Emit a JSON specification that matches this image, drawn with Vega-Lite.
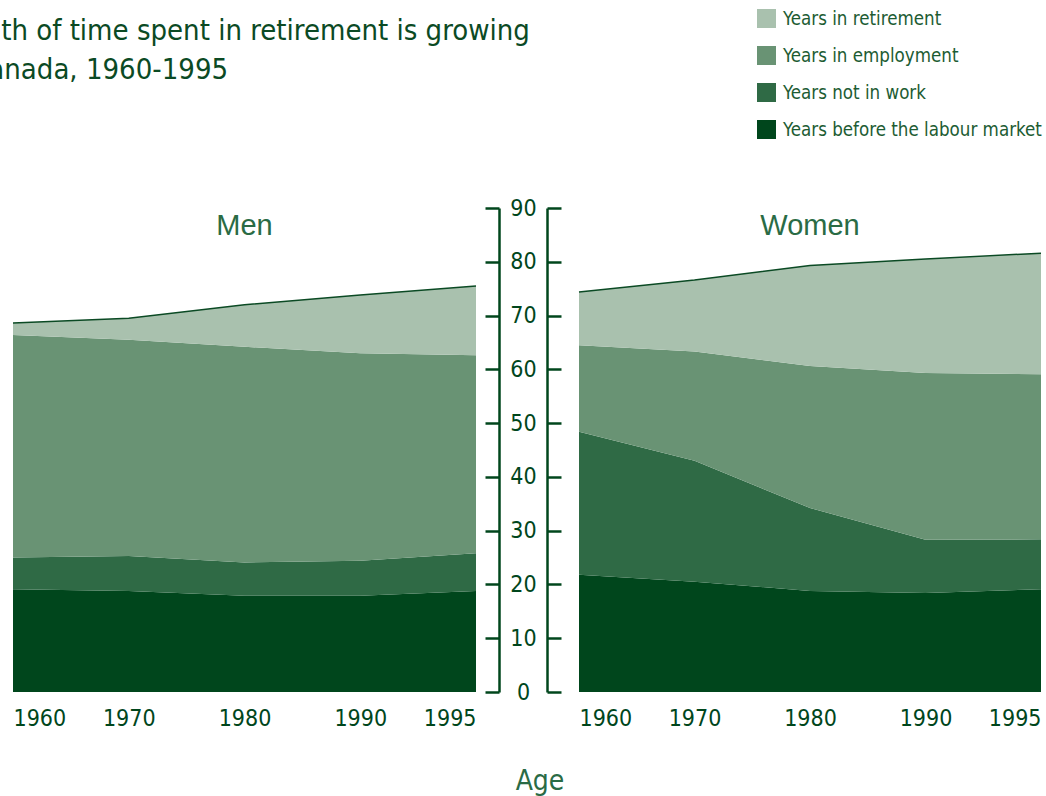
{
  "$schema": "https://vega.github.io/schema/vega-lite/v6.json",
  "padding": {"left": -62, "top": 9, "right": 0, "bottom": 0},
  "background": "white",
  "title": {
    "text": ["Length of time spent in retirement is growing", "in Canada, 1960-1995"],
    "anchor": "start",
    "dx": -72,
    "offset": -76,
    "font": "DejaVu Sans Condensed, Liberation Sans, sans-serif",
    "fontSize": 29,
    "fontWeight": "normal",
    "lineHeight": 39,
    "color": "#0b4a24"
  },
  "data": {
    "values": [
      {"sex": "Men", "year": 1960, "category": "Years before the labour market", "years": 19.1},
      {"sex": "Men", "year": 1970, "category": "Years before the labour market", "years": 18.8},
      {"sex": "Men", "year": 1980, "category": "Years before the labour market", "years": 17.9},
      {"sex": "Men", "year": 1990, "category": "Years before the labour market", "years": 17.9},
      {"sex": "Men", "year": 1995, "category": "Years before the labour market", "years": 18.8},
      {"sex": "Men", "year": 1960, "category": "Years not in work", "years": 5.9},
      {"sex": "Men", "year": 1970, "category": "Years not in work", "years": 6.5},
      {"sex": "Men", "year": 1980, "category": "Years not in work", "years": 6.2},
      {"sex": "Men", "year": 1990, "category": "Years not in work", "years": 6.5},
      {"sex": "Men", "year": 1995, "category": "Years not in work", "years": 7.0},
      {"sex": "Men", "year": 1960, "category": "Years in employment", "years": 41.4},
      {"sex": "Men", "year": 1970, "category": "Years in employment", "years": 40.2},
      {"sex": "Men", "year": 1980, "category": "Years in employment", "years": 40.1},
      {"sex": "Men", "year": 1990, "category": "Years in employment", "years": 38.6},
      {"sex": "Men", "year": 1995, "category": "Years in employment", "years": 36.8},
      {"sex": "Men", "year": 1960, "category": "Years in retirement", "years": 2.2},
      {"sex": "Men", "year": 1970, "category": "Years in retirement", "years": 4.0},
      {"sex": "Men", "year": 1980, "category": "Years in retirement", "years": 7.8},
      {"sex": "Men", "year": 1990, "category": "Years in retirement", "years": 10.8},
      {"sex": "Men", "year": 1995, "category": "Years in retirement", "years": 12.9},
      {"sex": "Women", "year": 1960, "category": "Years before the labour market", "years": 21.8},
      {"sex": "Women", "year": 1970, "category": "Years before the labour market", "years": 20.5},
      {"sex": "Women", "year": 1980, "category": "Years before the labour market", "years": 18.8},
      {"sex": "Women", "year": 1990, "category": "Years before the labour market", "years": 18.4},
      {"sex": "Women", "year": 1995, "category": "Years before the labour market", "years": 19.1},
      {"sex": "Women", "year": 1960, "category": "Years not in work", "years": 26.6},
      {"sex": "Women", "year": 1970, "category": "Years not in work", "years": 22.5},
      {"sex": "Women", "year": 1980, "category": "Years not in work", "years": 15.4},
      {"sex": "Women", "year": 1990, "category": "Years not in work", "years": 9.9},
      {"sex": "Women", "year": 1995, "category": "Years not in work", "years": 9.3},
      {"sex": "Women", "year": 1960, "category": "Years in employment", "years": 16.1},
      {"sex": "Women", "year": 1970, "category": "Years in employment", "years": 20.3},
      {"sex": "Women", "year": 1980, "category": "Years in employment", "years": 26.4},
      {"sex": "Women", "year": 1990, "category": "Years in employment", "years": 31.0},
      {"sex": "Women", "year": 1995, "category": "Years in employment", "years": 30.7},
      {"sex": "Women", "year": 1960, "category": "Years in retirement", "years": 9.9},
      {"sex": "Women", "year": 1970, "category": "Years in retirement", "years": 13.3},
      {"sex": "Women", "year": 1980, "category": "Years in retirement", "years": 18.7},
      {"sex": "Women", "year": 1990, "category": "Years in retirement", "years": 21.2},
      {"sex": "Women", "year": 1995, "category": "Years in retirement", "years": 22.5}
    ]
  },
  "vconcat": [
    {
      "title": {
        "text": "Age",
        "orient": "bottom",
        "anchor": "middle",
        "offset": 38,
        "dx": 13,
        "font": "DejaVu Sans Condensed, Liberation Sans, sans-serif",
        "fontSize": 28,
        "fontWeight": "normal",
        "color": "#2a6b45"
      },
      "spacing": 8,
      "hconcat": [
        {
          "width": 463,
          "height": 484,
          "title": {"text": "Men", "anchor": "middle", "offset": -44, "font": "Liberation Sans", "fontSize": 29, "fontWeight": "normal", "color": "#2a6b45"},
          "transform": [{"filter": "datum.sex === 'Men'"}],
          "encoding": {
            "x": {
              "field": "year", "type": "ordinal",
              "scale": {"type": "point", "padding": 0},
              "axis": {"labelAngle": 0, "labelFlush": true, "ticks": false, "domain": false, "labelPadding": 15, "labelFont": "DejaVu Sans Condensed, Liberation Sans, sans-serif", "labelFontSize": 23, "labelColor": "#00461c", "title": null, "grid": false}
            }
          },
          "layer": [
            {
              "transform": [{"calculate": "indexof(['Years before the labour market','Years not in work','Years in employment','Years in retirement'], datum.category)", "as": "stack_order"}],
              "mark": {"type": "area", "interpolate": "linear"},
              "encoding": {
                "y": {
                  "field": "years", "type": "quantitative", "stack": "zero",
                  "scale": {"domain": [0, 90], "nice": false},
                  "axis": {"orient": "right", "offset": 23, "values": [0, 10, 20, 30, 40, 50, 60, 70, 80, 90], "tickSize": -14, "tickWidth": 2.5, "domainWidth": 2.5, "tickColor": "#00461c", "domainColor": "#00461c", "labelAlign": "center", "labelBaseline": "middle", "labelPadding": 38, "labelFont": "DejaVu Sans Condensed, Liberation Sans, sans-serif", "labelFontSize": 23, "labelColor": "#00461c", "labelFlush": false, "labelOverlap": false, "title": null, "grid": false}
                },
                "color": {
                  "field": "category", "type": "nominal",
                  "scale": {
                    "domain": ["Years in retirement", "Years in employment", "Years not in work", "Years before the labour market"],
                    "range": ["#a9c1ae", "#699374", "#2f6a45", "#00461c"]
                  },
                  "legend": {"orient": "none", "legendX": 744, "legendY": -199, "title": null, "symbolType": "square", "symbolSize": 361, "symbolStrokeWidth": 0, "symbolOpacity": 1, "labelFont": "DejaVu Sans Condensed, Liberation Sans, sans-serif", "labelFontSize": 18.6, "labelLimit": 400, "labelColor": "#1d5c33", "rowPadding": 17, "labelOffset": 7, "padding": 0}
                },
                "order": {"field": "stack_order", "type": "quantitative"}
              }
            },
            {
              "transform": [{"aggregate": [{"op": "sum", "field": "years", "as": "total"}], "groupby": ["year"]}],
              "mark": {"type": "line", "color": "#0b4a24", "strokeWidth": 1.5},
              "encoding": {
                "y": {
                  "field": "total", "type": "quantitative",
                  "scale": {"domain": [0, 90], "nice": false},
                  "axis": {"orient": "right", "offset": 23, "values": [0, 10, 20, 30, 40, 50, 60, 70, 80, 90], "tickSize": -14, "tickWidth": 2.5, "domainWidth": 2.5, "tickColor": "#00461c", "domainColor": "#00461c", "labelAlign": "center", "labelBaseline": "middle", "labelPadding": 38, "labelFont": "DejaVu Sans Condensed, Liberation Sans, sans-serif", "labelFontSize": 23, "labelColor": "#00461c", "labelFlush": false, "labelOverlap": false, "title": null, "grid": false}
                }
              }
            }
          ]
        },
        {
          "width": 462,
          "height": 484,
          "title": {"text": "Women", "anchor": "middle", "offset": -34, "font": "Liberation Sans", "fontSize": 29, "fontWeight": "normal", "color": "#2a6b45"},
          "transform": [{"filter": "datum.sex === 'Women'"}],
          "encoding": {
            "x": {
              "field": "year", "type": "ordinal",
              "scale": {"type": "point", "padding": 0},
              "axis": {"labelAngle": 0, "labelFlush": true, "ticks": false, "domain": false, "labelPadding": 15, "labelFont": "DejaVu Sans Condensed, Liberation Sans, sans-serif", "labelFontSize": 23, "labelColor": "#00461c", "title": null, "grid": false}
            }
          },
          "layer": [
            {
              "transform": [{"calculate": "indexof(['Years before the labour market','Years not in work','Years in employment','Years in retirement'], datum.category)", "as": "stack_order"}],
              "mark": {"type": "area", "interpolate": "linear"},
              "encoding": {
                "y": {
                  "field": "years", "type": "quantitative", "stack": "zero",
                  "scale": {"domain": [0, 90], "nice": false},
                  "axis": {"orient": "left", "offset": 32, "values": [0, 10, 20, 30, 40, 50, 60, 70, 80, 90], "tickSize": -14, "tickWidth": 2.5, "domainWidth": 2.5, "tickColor": "#00461c", "domainColor": "#00461c", "labels": false, "title": null, "grid": false}
                },
                "color": {
                  "field": "category", "type": "nominal",
                  "scale": {
                    "domain": ["Years in retirement", "Years in employment", "Years not in work", "Years before the labour market"],
                    "range": ["#a9c1ae", "#699374", "#2f6a45", "#00461c"]
                  }
                },
                "order": {"field": "stack_order", "type": "quantitative"}
              }
            },
            {
              "transform": [{"aggregate": [{"op": "sum", "field": "years", "as": "total"}], "groupby": ["year"]}],
              "mark": {"type": "line", "color": "#0b4a24", "strokeWidth": 1.5},
              "encoding": {
                "y": {
                  "field": "total", "type": "quantitative",
                  "scale": {"domain": [0, 90], "nice": false},
                  "axis": {"orient": "left", "offset": 32, "values": [0, 10, 20, 30, 40, 50, 60, 70, 80, 90], "tickSize": -14, "tickWidth": 2.5, "domainWidth": 2.5, "tickColor": "#00461c", "domainColor": "#00461c", "labels": false, "title": null, "grid": false}
                }
              }
            }
          ]
        }
      ]
    }
  ],
  "config": {
    "view": {"stroke": null},
    "axis": {"domainCap": "butt", "tickCap": "butt"}
  }
}
